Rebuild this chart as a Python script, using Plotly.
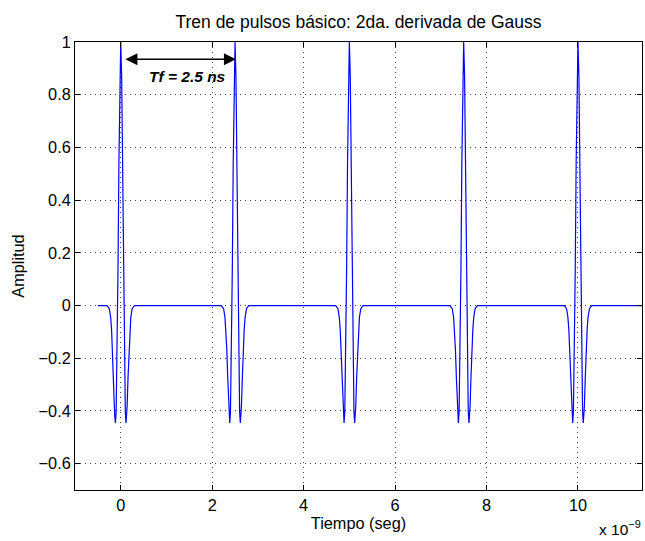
import plotly.graph_objects as go

# Pulse centres (ns)
pulse_centers_ns = [0.0, 2.5, 5.0, 7.5, 10.0]
# One pulse shape: time offset (ns) and amplitude
pulse_offsets_ns = [-0.30, -0.25, -0.22, -0.20, -0.18, -0.16, -0.14, -0.13, -0.116, -0.10, -0.08,
                    -0.06, -0.04, -0.02, 0.0, 0.02, 0.04, 0.06, 0.08, 0.10, 0.116, 0.13, 0.14,
                    0.16, 0.18, 0.20, 0.22, 0.25, 0.30]
pulse_amplitude = [0.0, -0.012, -0.045, -0.092, -0.168, -0.272, -0.380, -0.421, -0.446, -0.403, -0.209,
                   0.133, 0.539, 0.871, 1.0, 0.871, 0.539, 0.133, -0.209, -0.403, -0.446, -0.421, -0.380,
                   -0.272, -0.168, -0.092, -0.045, -0.012, 0.0]
t_start_ns, t_end_ns = -0.5, 11.45

x_tick_vals = [0, 2, 4, 6, 8, 10]
y_tick_vals = [-0.6, -0.4, -0.2, 0, 0.2, 0.4, 0.6, 0.8, 1]
y_tick_text = ["\u22120.6", "\u22120.4", "\u22120.2", "0", "0.2", "0.4", "0.6", "0.8", "1"]

# Build the train
xs, ys = [t_start_ns * 1e-9], [0.0]
for c in pulse_centers_ns:
    for o, a in zip(pulse_offsets_ns, pulse_amplitude):
        xs.append((c + o) * 1e-9)
        ys.append(a)
xs.append(t_end_ns * 1e-9)
ys.append(0.0)

fig = go.Figure()
fig.add_trace(go.Scatter(x=xs, y=ys, mode="lines",
                         line=dict(color="rgb(0,0,255)", width=1.2), showlegend=False))

font = "Liberation Sans, Arial, Helvetica, sans-serif"
FS = 16.3
axis_common = dict(showline=True, linecolor="black", linewidth=1, mirror="ticks",
                   ticks="inside", ticklen=5, tickcolor="black", zeroline=False,
                   showgrid=True, gridcolor="rgb(60,60,60)", gridwidth=1, griddash="1px,4px",
                   tickfont=dict(family=font, size=FS, color="black"))

fig.update_xaxes(range=[-1.0e-9, 11.4e-9],
                 tickvals=[v * 1e-9 for v in x_tick_vals],
                 ticktext=[str(v) for v in x_tick_vals],
                 title=dict(text="Tiempo (seg)", font=dict(family=font, size=FS, color="black"), standoff=1),
                 **axis_common)
fig.update_yaxes(range=[-0.7, 1.0], tickvals=y_tick_vals, ticktext=y_tick_text,
                 title=dict(text="Amplitud", font=dict(family=font, size=FS, color="black"), standoff=9),
                 **axis_common)

# Double arrow for the period
fig.add_annotation(x=2.52e-9, y=0.935, ax=0.07e-9, ay=0.935, xref="x", yref="y", axref="x", ayref="y",
                   text="", showarrow=True, arrowhead=2, startarrowhead=2, arrowside="end+start",
                   arrowsize=1.6, startarrowsize=1.6, arrowwidth=1.5, arrowcolor="black")
fig.add_annotation(x=1.45e-9, y=0.87, xref="x", yref="y", showarrow=False,
                   text="<b><i>Tf = 2.5 ns</i></b>", font=dict(family=font, size=15.5, color="black"))
# exponent label
fig.add_annotation(xref="paper", yref="paper", x=(620 - 75) / (642 - 75), y=-(528 - 490) / (490 - 42),
                   xanchor="center", yanchor="middle", showarrow=False,
                   text="x 10<sup>\u22129</sup>", font=dict(family=font, size=15.5, color="black"))

fig.update_layout(
    width=645, height=541,
    margin=dict(l=75, r=3, t=42, b=51),
    paper_bgcolor="white", plot_bgcolor="white",
    title=dict(text="Tren de pulsos básico: 2da. derivada de Gauss",
               x=(75 + 642) / 2 / 645, xanchor="center", y=1 - 22 / 541, yanchor="middle",
               font=dict(family=font, size=17.5, color="black")),
)
fig.write_html("out.html")
